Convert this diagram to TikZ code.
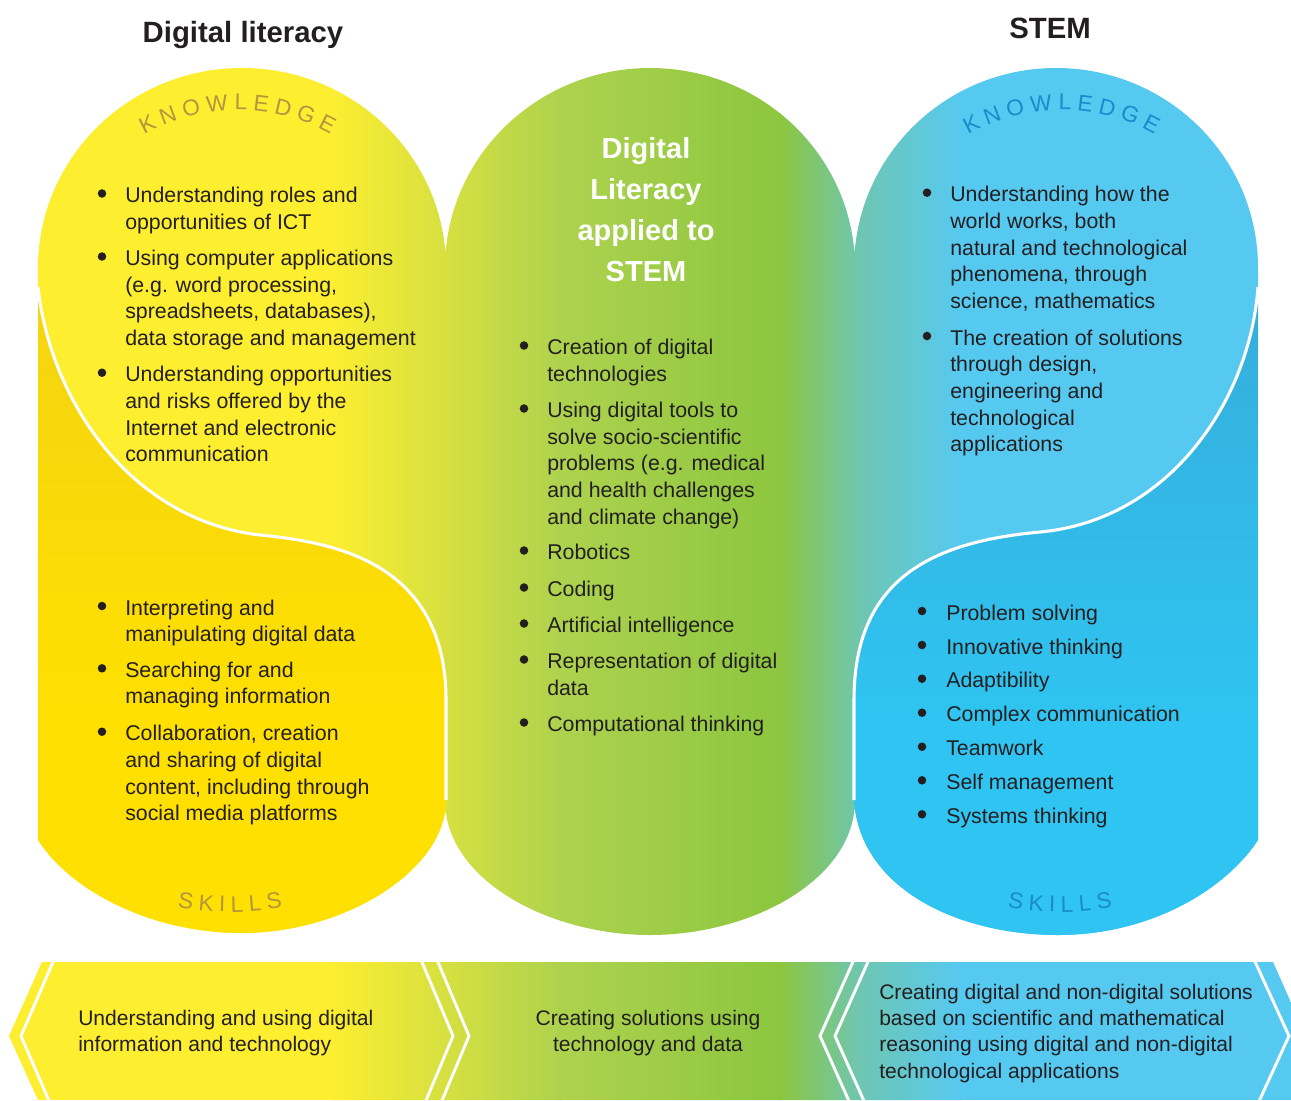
\documentclass[tikz,border=0pt]{standalone}
\usepackage{fontspec}
\setmainfont{Liberation Sans}
\usetikzlibrary{calc}
\definecolor{cY}{HTML}{FDEE30}
\definecolor{cYG}{HTML}{D6E040}
\definecolor{cG1}{HTML}{AED24E}
\definecolor{cG2}{HTML}{8CC63F}
\definecolor{cT}{HTML}{6EC6B2}
\definecolor{cB}{HTML}{56C9F1}
\definecolor{cYS}{HTML}{FFE000}
\definecolor{cYSd}{HTML}{F3D412}
\definecolor{cBS}{HTML}{2FC4F1}
\definecolor{cBSd}{HTML}{36ADDA}
\definecolor{cTX}{HTML}{231F20}
\definecolor{cKY}{HTML}{B3963D}
\definecolor{cKB}{HTML}{1B8BCB}
\newcommand\bodyfs{\fontsize{16pt}{20pt}\selectfont}
\newcommand\bandfs{\fontsize{15.8pt}{19.8pt}\selectfont}
\newcommand\myitem[5]{%
  \node[bul] (#1b) at (#2,#4-9) {};
  \node[itm] (#1t) at (#3,#4) {\parbox[t]{300pt}{\raggedright #5}};}
\begin{document}
\begin{tikzpicture}[x=0.75pt,y=-0.75pt,
 ycol/.style={insert path={(38,840) -- (38,268) .. controls (38,157.5) and (129.3,68) .. (242,68) .. controls (354.7,68) and (446,157.5) .. (446,268) -- (446,800) .. controls (446,870) and (345,933) .. (242,933) .. controls (150,933) and (70,890) .. (38,840) -- cycle}},
 gcol/.style={insert path={(445,800) -- (445,268) .. controls (445,157.5) and (536.8,68) .. (650,68) .. controls (763.2,68) and (855,157.5) .. (855,268) -- (855,800) .. controls (855,880) and (751,935) .. (650,935) .. controls (549,935) and (445,880) .. (445,800) -- cycle}},
 bcol/.style={insert path={(854,800) -- (854,268) .. controls (854,157.5) and (944.3,68) .. (1056,68) .. controls (1167.7,68) and (1258,157.5) .. (1258,268) -- (1258,840) .. controls (1225,890) and (1150,935) .. (1058,935) .. controls (960,935) and (860,890) .. (854,800) -- cycle}},
 bandp/.style={insert path={(42,962) -- (1273,962) -- (1297,1016) -- (1297,1100) -- (38,1100) -- (9,1036) -- cycle}},
 yskill/.style={insert path={(38,287) .. controls (50,400) and (130,520) .. (260,535) .. controls (330,542) and (446,560) .. (446,700) -- (446,800) .. controls (446,870) and (345,933) .. (242,933) .. controls (150,933) and (70,890) .. (38,840) -- cycle}},
 bskill/.style={insert path={(1258,287) .. controls (1250,400) and (1170,520) .. (1040,532) .. controls (930,542) and (854,580) .. (854,700) -- (854,800) .. controls (860,890) and (960,935) .. (1058,935) .. controls (1150,935) and (1225,890) .. (1258,840) -- cycle}},
 bul/.style={circle,fill=cTX,inner sep=0pt,minimum size=6.4pt},
 itm/.style={anchor=base west,inner sep=0pt,font=\bodyfs,text=cTX},
 kn/.style={anchor=base,inner sep=0pt,font=\fontsize{17pt}{17pt}\selectfont},
 wline/.style={draw=white,line width=2.3pt},
 bline/.style={draw=white,line width=2.2pt,line join=miter},
 head/.style={anchor=base,inner sep=0pt,font=\bfseries\fontsize{22pt}{22pt}\selectfont,text=cTX},
 bandtx/.style={anchor=base west,inner sep=0pt,font=\bandfs,text=cTX}]
\useasboundingbox (0,0) rectangle (1291,1100);
% gradient body of columns and band
\begin{scope}
\clip[ycol,gcol,bcol,bandp];
\fill[cY] (0,0) rectangle (331,1100);
\shade[left color=cY,right color=cYG] (330,0) rectangle (446,1100);
\shade[left color=cYG,right color=cG1] (445,0) rectangle (561,1100);
\shade[left color=cG1,right color=cG2] (560,0) rectangle (781,1100);
\shade[left color=cG2,right color=cT] (780,0) rectangle (861,1100);
\shade[left color=cT,right color=cB] (860,0) rectangle (961,1100);
\fill[cB] (960,0) rectangle (1300,1100);
\end{scope}
% skills lobes
\begin{scope}
\clip[yskill];
\shade[top color=cYSd,bottom color=cYS] (0,286) rectangle (460,721);
\fill[cYS] (0,720) rectangle (460,940);
\end{scope}
\begin{scope}
\clip[bskill];
\shade[top color=cBSd,bottom color=cBS] (840,286) rectangle (1270,721);
\fill[cBS] (840,720) rectangle (1270,940);
\end{scope}
\draw[wline] (38,287) .. controls (50,400) and (130,520) .. (260,535) .. controls (330,542) and (446,560) .. (446,700) -- (446,800);
\draw[wline] (1258,287) .. controls (1250,400) and (1170,520) .. (1040,532) .. controls (930,542) and (854,580) .. (854,700) -- (854,800);
% band chevron lines
\draw[bline] (56,955) -- (21,1036) -- (53,1110);
\draw[bline] (419,955) -- (453,1036) -- (422,1110);
\draw[bline] (435,955) -- (469,1036) -- (438,1110);
\draw[bline] (856,955) -- (820,1036) -- (853,1110);
\draw[bline] (871,955) -- (835,1036) -- (868,1110);
\draw[bline] (1252,955) -- (1289,1036) -- (1255,1110);
% headings
\node[head] (h1) at (243,42) {Digital literacy};
\node[head] (h2) at (1050,38) {STEM};
\node[anchor=base,inner sep=0pt,text=white,font=\bfseries\fontsize{21.75pt}{30.9pt}\selectfont] (ct) at (646,158) {\parbox[t]{200pt}{\centering Digital\\Literacy\\applied to\\STEM}};
% curved labels
\foreach \l/\a [count=\i] in {K/117.1,N/110.6,O/103.6,W/96.0,L/89.0,E/83.1,D/76.55,G/69.6,E/62.9} {
  \node[kn,text=cKY,rotate=\a-90] (ky\i) at ({237.5+190*cos(\a)},{300-190*sin(\a)}) {\l};
  \node[kn,text=cKB,rotate=\a-90] (kb\i) at ({1061.5+190*cos(\a)},{300-190*sin(\a)}) {\l};
}
\foreach \l/\a [count=\i] in {S/261.67,K/265.51,I/268.53,L/271.32,L/274.7,S/278.31} {
  \node[kn,text=cKY,rotate=\a-270] (sy\i) at ({230+312*cos(\a)},{600-312*sin(\a)}) {\l};
  \node[kn,text=cKB,rotate=\a-270] (sb\i) at ({1060+312*cos(\a)},{600-312*sin(\a)}) {\l};
}
% yellow knowledge
\myitem{yka}{102}{125}{202.5}{Understanding roles and\\opportunities of ICT}
\myitem{ykb}{102}{125}{265.5}{Using computer applications\\(e.g. word processing,\\spreadsheets, databases),\\data storage and management}
\myitem{ykc}{102}{125}{381.7}{Understanding opportunities\\and risks offered by the\\Internet and electronic\\communication}
% yellow skills
\myitem{ysa}{102}{125}{615}{Interpreting and\\manipulating digital data}
\myitem{ysb}{102}{125}{677.3}{Searching for and\\managing information}
\myitem{ysc}{102}{125}{740.7}{Collaboration, creation\\and sharing of digital\\content, including through\\social media platforms}
% middle
\myitem{ma}{524}{547}{354.5}{Creation of digital\\technologies}
\myitem{mb}{524}{547}{417.5}{Using digital tools to\\solve socio-scientific\\problems (e.g. medical\\and health challenges\\and climate change)}
\myitem{mc}{524}{547}{559.5}{Robotics}
\myitem{md}{524}{547}{596.5}{Coding}
\myitem{me}{524}{547}{632.5}{Artificial intelligence}
\myitem{mf}{524}{547}{668.5}{Representation of digital\\data}
\myitem{mg}{524}{547}{731.5}{Computational thinking}
% blue knowledge
\myitem{bka}{927}{950}{201.7}{Understanding how the\\world works, both\\natural and technological\\phenomena, through\\science, mathematics}
\myitem{bkb}{927}{950}{345}{The creation of solutions\\through design,\\engineering and\\technological\\applications}
% blue skills
\myitem{bsa}{922}{946}{620}{Problem solving}
\myitem{bsb}{922}{946}{654}{Innovative thinking}
\myitem{bsc}{922}{946}{687.7}{Adaptibility}
\myitem{bsd}{922}{946}{721.7}{Complex communication}
\myitem{bse}{922}{946}{755.7}{Teamwork}
\myitem{bsf}{922}{946}{789.3}{Self management}
\myitem{bsg}{922}{946}{823.3}{Systems thinking}
% band texts
\node[bandtx] (ba) at (78,1025) {\parbox[t]{300pt}{\raggedright Understanding and using digital\\information and technology}};
\node[bandtx,anchor=base] (bb) at (648,1025) {\parbox[t]{250pt}{\centering Creating solutions using\\technology and data}};
\node[bandtx] (bc) at (879,999) {\parbox[t]{300pt}{\raggedright Creating digital and non-digital solutions\\based on scientific and mathematical\\reasoning using digital and non-digital\\technological applications}};
\end{tikzpicture}
\end{document}
